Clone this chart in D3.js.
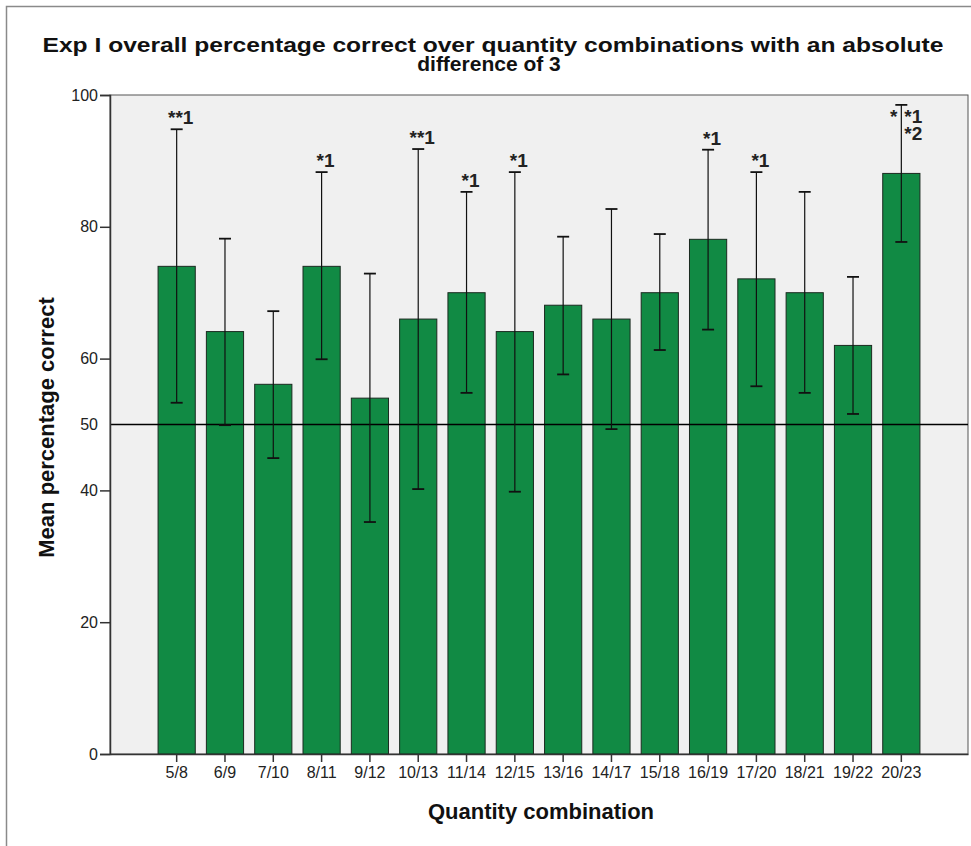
<!DOCTYPE html>
<html>
<head>
<meta charset="utf-8">
<script src="https://cdn.jsdelivr.net/npm/d3@7"></script>
<style>
  html, body { margin: 0; padding: 0; background: #ffffff; }
  svg { display: block; font-family: Arial, "Liberation Sans", sans-serif; }
</style>
</head>
<body>
<svg id="chart" width="971" height="846"></svg>
<script>
const categories = ["5/8","6/9","7/10","8/11","9/12","10/13","11/14","12/15","13/16","14/17","15/18","16/19","17/20","18/21","19/22","20/23"];
const means = [74.0, 64.1, 56.1, 74.0, 54.0, 66.0, 70.0, 64.1, 68.1, 66.0, 70.0, 78.1, 72.1, 70.0, 62.0, 88.1];
const upperCI = [94.8, 78.2, 67.2, 88.3, 72.9, 91.8, 85.3, 88.3, 78.5, 82.7, 78.9, 91.7, 88.3, 85.3, 72.4, 98.5];
const lowerCI = [53.3, 49.9, 44.9, 59.9, 35.2, 40.2, 54.8, 39.8, 57.6, 49.3, 61.3, 64.4, 55.8, 54.8, 51.6, 77.7];
const annotations = ["**1", "", "", "*1", "", "**1", "*1", "*1", "", "", "", "*1", "*1", "", "", ""];
const yTicks = [0, 20, 40, 50, 60, 80, 100];
const referenceValue = 50;
const titleLines = ["Exp I overall percentage correct over quantity combinations with an absolute", "difference of 3"];
const xTitle = "Quantity combination";
const yTitle = "Mean percentage correct";

const svg = d3.select("#chart");
const plot = {left: 110, right: 968, top: 95, bottom: 754};
const FONT = "Arial, 'Liberation Sans', sans-serif";

// outer frame
svg.append("rect").attr("x", 6.5).attr("y", 6.5).attr("width", 980).attr("height", 860)
  .attr("fill", "none").attr("stroke", "#8a8a8a").attr("stroke-width", 1.5);

// plot background
svg.append("rect").attr("x", plot.left).attr("y", plot.top)
  .attr("width", plot.right - plot.left).attr("height", plot.bottom - plot.top)
  .attr("fill", "#f0f0f0").attr("stroke", "#555").attr("stroke-width", 1);

const x = d3.scaleBand().domain(categories).range([plot.left, plot.right])
  .paddingInner(0.23).paddingOuter(0.995);
const y = d3.scaleLinear().domain([0, 100]).range([plot.bottom, plot.top]);

// bars
svg.append("g").selectAll("rect").data(categories).join("rect")
  .attr("x", d => x(d)).attr("width", x.bandwidth())
  .attr("y", (d, i) => y(means[i])).attr("height", (d, i) => y(0) - y(means[i]))
  .attr("fill", "#118a44").attr("stroke", "#1b2a20").attr("stroke-width", 1);

// reference line
svg.append("line").attr("x1", plot.left).attr("x2", plot.right)
  .attr("y1", y(referenceValue)).attr("y2", y(referenceValue))
  .attr("stroke", "#000").attr("stroke-width", 1.3);

// error bars
const eb = svg.append("g").attr("stroke", "#111").attr("stroke-width", 1.2);
categories.forEach((c, i) => {
  const cx = x(c) + x.bandwidth() / 2;
  eb.append("line").attr("x1", cx).attr("x2", cx).attr("y1", y(upperCI[i])).attr("y2", y(lowerCI[i]));
  eb.append("line").attr("x1", cx - 6).attr("x2", cx + 6).attr("y1", y(upperCI[i])).attr("y2", y(upperCI[i])).attr("stroke-width", 1.8);
  eb.append("line").attr("x1", cx - 6).attr("x2", cx + 6).attr("y1", y(lowerCI[i])).attr("y2", y(lowerCI[i])).attr("stroke-width", 1.8);
});

// annotations
const ann = svg.append("g").attr("font-size", 19).attr("font-weight", "bold").attr("fill", "#222");
categories.forEach((c, i) => {
  if (!annotations[i]) return;
  const cx = x(c) + x.bandwidth() / 2;
  ann.append("text").attr("x", cx + 4).attr("y", y(upperCI[i]) - 5)
    .attr("text-anchor", "middle").text(annotations[i]);
});
{
  const c = "20/23", i = categories.indexOf(c);
  const cx = x(c) + x.bandwidth() / 2;
  const yc = y(upperCI[i]);
  ann.append("text").attr("x", cx - 4).attr("y", yc + 18).attr("text-anchor", "end").text("*");
  ann.append("text").attr("x", cx + 3).attr("y", yc + 18).attr("text-anchor", "start").text("*1");
  ann.append("text").attr("x", cx + 3).attr("y", yc + 35).attr("text-anchor", "start").text("*2");
}

// axes
const yAxis = d3.axisLeft(y).tickValues(yTicks).tickSize(10).tickPadding(2).tickFormat(d3.format("d"));
const gy = svg.append("g").attr("transform", `translate(${plot.left},0)`).call(yAxis);
gy.selectAll(".tick line").attr("stroke", "#333").attr("stroke-width", 1.5)
  .filter(d => d === referenceValue).remove();
gy.select(".domain").attr("stroke", "#333").attr("stroke-width", 1.5);
gy.selectAll(".tick text").attr("font-size", 16).attr("fill", "#222").attr("font-family", FONT);

const xAxis = d3.axisBottom(x).tickSize(8).tickSizeOuter(0).tickPadding(5);
const gx = svg.append("g").attr("transform", `translate(0,${plot.bottom})`).call(xAxis);
gx.select(".domain").attr("stroke", "#333").attr("stroke-width", 1.5);
gx.selectAll(".tick line").attr("stroke", "#333").attr("stroke-width", 1.5);
gx.selectAll(".tick text").attr("font-size", 16).attr("fill", "#222").attr("font-family", FONT);

// titles
const title = svg.append("g").attr("font-weight", "bold").attr("font-size", 21).attr("fill", "#111");
title.append("text").attr("x", 493).attr("y", 52).attr("text-anchor", "middle")
  .attr("textLength", 901).attr("lengthAdjust", "spacingAndGlyphs").text(titleLines[0]);
title.append("text").attr("x", 489).attr("y", 71).attr("text-anchor", "middle").text(titleLines[1]);

svg.append("text").attr("x", 541).attr("y", 819).attr("text-anchor", "middle")
  .attr("font-weight", "bold").attr("font-size", 22).attr("fill", "#111").text(xTitle);

svg.append("text").attr("transform", `translate(54,${(plot.top + plot.bottom) / 2 + 3}) rotate(-90)`)
  .attr("text-anchor", "middle").attr("font-weight", "bold").attr("font-size", 22).attr("fill", "#111")
  .text(yTitle);
</script>
</body>
</html>
